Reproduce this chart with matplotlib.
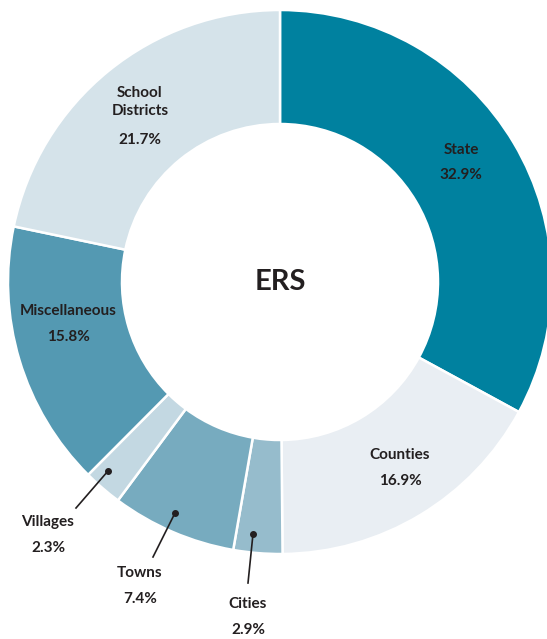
import numpy as np
import matplotlib.pyplot as plt

# share of ERS membership by employer type
labels = ["State", "Counties", "Cities", "Towns", "Villages",
          "Miscellaneous", "School\nDistricts"]
shares = [32.9, 16.9, 2.9, 7.4, 2.3, 15.8, 21.7]
colors = ["#00819f", "#e9eef3", "#96bccc", "#77abbf", "#c3d8e2",
          "#5499b2", "#d5e3ea"]

W, H = 547, 639
cx, cy = 280, H - 282
r_out, r_in = 272, 158

fig = plt.figure(figsize=(W / 100, H / 100), dpi=100)
ax = fig.add_axes([0, 0, 1, 1])

wedges, _ = ax.pie(shares, colors=colors, startangle=90, counterclock=False,
                   radius=r_out, center=(cx, cy), frame=True,
                   wedgeprops=dict(width=r_out - r_in, edgecolor="white",
                                   linewidth=1.8))
ax.set_xlim(0, W)
ax.set_ylim(0, H)
ax.set_aspect("equal")
ax.axis("off")

font = dict(family=["Lato", "DejaVu Sans"], fontweight="bold", color="#231f20")
ax.text(cx, cy, "ERS", ha="center", va="center", fontsize=21, **font)

# name position (pixels, top-down) for each label; value goes below
name_pos = {"State": (461, 150), "Counties": (400, 455),
            "Miscellaneous": (68, 311), "School\nDistricts": (140, 102),
            "Villages": (48, 522), "Towns": (140, 573), "Cities": (248, 604)}
value_pos = {"State": (461, 175), "Counties": (400, 481),
             "Miscellaneous": (68, 337), "School\nDistricts": (140, 140),
             "Villages": (48, 548), "Towns": (140, 599), "Cities": (248, 630)}
# leader lines for the thin slices
dot_pos = {"Villages": (108, 471), "Towns": (175, 513), "Cities": (253, 534)}
leader_end = {"Villages": (76, 508), "Towns": (153, 557), "Cities": (248, 583)}

for lab, val in zip(labels, shares):
    x, y = name_pos[lab]
    ax.text(x, H - y, lab, ha="center", va="center", fontsize=11,
            linespacing=1.3, **font)
    x, y = value_pos[lab]
    ax.text(x, H - y, f"{val:.1f}%", ha="center", va="center", fontsize=11,
            **font)
    if lab in dot_pos:
        dx, dy = dot_pos[lab]
        ex, ey = leader_end[lab]
        ax.plot([dx, ex], [H - dy, H - ey], color="#231f20", lw=1.2)
        ax.plot(dx, H - dy, "o", color="#231f20", ms=4)

fig.savefig("out.png", dpi=100)
